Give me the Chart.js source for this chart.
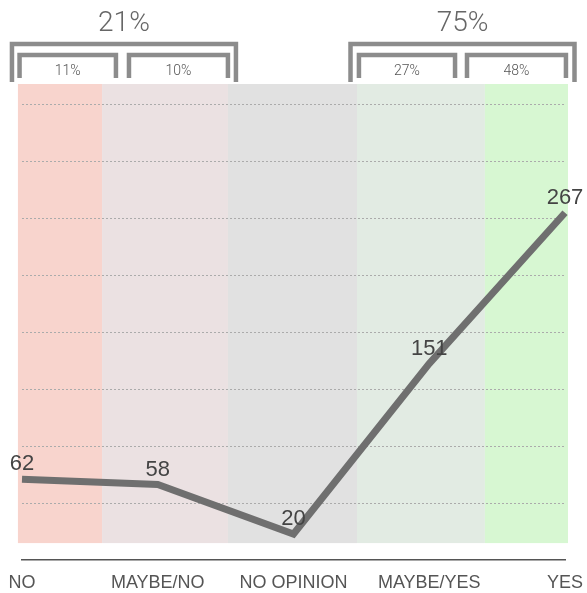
<!doctype html>
<html lang="en">
<head>
<meta charset="utf-8">
<title>Poll results</title>
<script src="https://cdn.jsdelivr.net/npm/chart.js@4/dist/chart.umd.min.js"></script>
<style>
  * { margin: 0; padding: 0; box-sizing: border-box; }
  html, body { background: #fff; }
  #canvas { display: block; }
</style>
</head>
<body>
<canvas id="canvas" width="587" height="593"></canvas>
<script>
// data
var categories = ["NO", "MAYBE/NO", "NO OPINION", "MAYBE/YES", "YES"];
var votes = [62, 58, 20, 151, 267];
var subPercents = ["11%", "10%", "27%", "48%"];
var groupPercents = ["21%", "75%"];

// decoration layout (x in category units, y in px)
var bandEdges = [-0.03, 0.59, 1.517, 2.468, 3.41, 4.022];
var bandColors = ["#f8d4cd", "#ebe1e2", "#e1e1e1", "#e2ebe3", "#d7f7d2"];
var outerBrackets = [[-0.074, 1.576], [2.42, 4.07]];
var innerBrackets = [[-0.018, 0.692], [0.788, 1.517], [2.482, 3.19], [3.278, 4.007]];

var bgPlugin = {
  id: 'bands',
  beforeDraw: function (chart) {
    var ctx = chart.ctx, x = chart.scales.x, y = chart.scales.y;
    var top = y.getPixelForValue(366), bottom = y.getPixelForValue(13);
    ctx.save();
    for (var i = 0; i < bandColors.length; i++) {
      var x1 = x.getPixelForValue(bandEdges[i]);
      var x2 = x.getPixelForValue(bandEdges[i + 1]);
      ctx.fillStyle = bandColors[i];
      ctx.fillRect(x1, top, x2 - x1, bottom - top);
    }
    ctx.restore();
  }
};

function bracket(ctx, x1, x2, yTop, yBottom) {
  ctx.beginPath();
  ctx.moveTo(x1, yBottom);
  ctx.lineTo(x1, yTop);
  ctx.lineTo(x2, yTop);
  ctx.lineTo(x2, yBottom);
  ctx.stroke();
}

var labelPlugin = {
  id: 'labels',
  afterDatasetsDraw: function (chart) {
    var ctx = chart.ctx;
    var meta = chart.getDatasetMeta(0);
    ctx.save();
    ctx.font = '22px "Liberation Sans", Arial, sans-serif';
    ctx.fillStyle = '#444';
    ctx.textAlign = 'center';
    ctx.textBaseline = 'middle';
    meta.data.forEach(function (pt, i) {
      ctx.fillText(votes[i], pt.x, pt.y - 15);
    });
    ctx.restore();
  },
  afterDraw: function (chart) {
    var ctx = chart.ctx, x = chart.scales.x;
    ctx.save();
    ctx.strokeStyle = '#8c8c8c';
    ctx.lineWidth = 4.5;
    ctx.lineJoin = 'miter';
    ctx.lineCap = 'butt';
    ctx.textAlign = 'center';
    ctx.textBaseline = 'middle';
    outerBrackets.forEach(function (b, i) {
      var a = x.getPixelForValue(b[0]), c = x.getPixelForValue(b[1]);
      bracket(ctx, a, c, 44, 82);
      ctx.fillStyle = '#666';
      ctx.font = '300 28px Roboto, "Liberation Sans", sans-serif';
      ctx.fillText(groupPercents[i], (a + c) / 2, 24);
    });
    innerBrackets.forEach(function (b, i) {
      var a = x.getPixelForValue(b[0]), c = x.getPixelForValue(b[1]);
      bracket(ctx, a, c, 55, 78);
      ctx.fillStyle = '#555';
      ctx.font = '300 14px Roboto, "Liberation Sans", sans-serif';
      ctx.fillText(subPercents[i], (a + c) / 2, 71);
    });
    ctx.restore();
  }
};

var ctx = document.getElementById("canvas").getContext("2d");

var myChart = new Chart(ctx, {
  type: 'line',
  data: {
    labels: categories,
    datasets: [{
      data: votes,
      borderColor: '#6f6f6f',
      borderWidth: 7,
      borderJoinStyle: 'miter',
      tension: 0,
      pointRadius: 0,
      pointHoverRadius: 0,
      fill: false,
      clip: false
    }]
  },
  options: {
    responsive: false,
    animation: false,
    layout: { padding: { left: 22, right: 22, top: 84, bottom: 0 } },
    plugins: {
      legend: { display: false },
      tooltip: { enabled: false }
    },
    scales: {
      x: {
        offset: false,
        afterFit: function (s) {
          s.height = 33;
          s.paddingLeft = 0;
          s.paddingRight = 0;
        },
        grid: { display: false, drawTicks: false },
        border: { display: true, color: '#555', width: 1.5 },
        ticks: {
          padding: 12,
          color: '#555',
          maxRotation: 0,
          autoSkip: false,
          font: { family: '"Liberation Sans", Arial, sans-serif', size: 18 }
        }
      },
      y: {
        min: 0,
        max: 366,
        afterBuildTicks: function (scale) {
          var t = [];
          for (var v = 43.75; v <= 350; v += 43.75) t.push({ value: v });
          scale.ticks = t;
        },
        grid: { color: '#ababab', lineWidth: 1, drawTicks: false },
        border: { display: false, dash: [2, 2] },
        ticks: { display: false }
      }
    }
  },
  plugins: [bgPlugin, labelPlugin]
});
</script>
</body>
</html>
